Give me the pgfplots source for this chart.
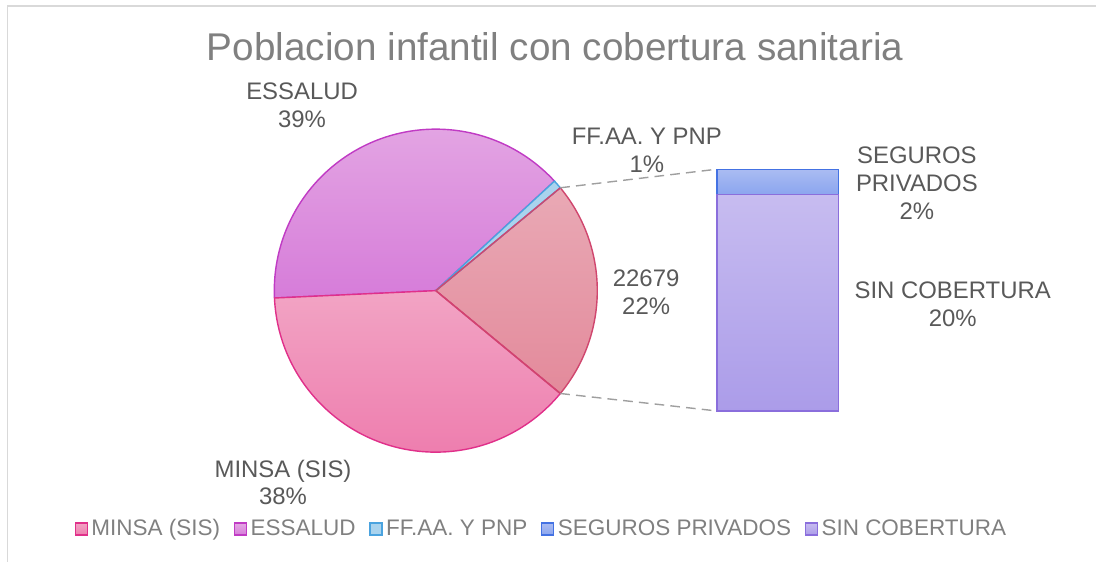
\documentclass[border=0pt]{standalone}
\usepackage{pgfplots}
\usepackage{pgfplotstable}
\usepackage{fontspec}
\setmainfont{Liberation Sans}
\usetikzlibrary{calc}
\pgfplotsset{compat=1.18}

\definecolor{titlegray}{HTML}{808080}
\definecolor{labgray}{HTML}{595959}
\definecolor{framegray}{HTML}{D9D9D9}
\definecolor{minsaT}{HTML}{F2A4C4}\definecolor{minsaB}{HTML}{EE7DAE}\definecolor{minsaE}{HTML}{E0308A}
\definecolor{essT}{HTML}{E4A8E4}\definecolor{essB}{HTML}{D67CD9}\definecolor{essE}{HTML}{C03BC4}
\definecolor{ffaaF}{HTML}{A9D3EE}\definecolor{ffaaE}{HTML}{4AA3DF}
\definecolor{othT}{HTML}{E9A9B5}\definecolor{othB}{HTML}{E38A9B}\definecolor{othE}{HTML}{D0466E}
\definecolor{segT}{HTML}{AABCF2}\definecolor{segB}{HTML}{8BA5EF}\definecolor{segE}{HTML}{4472E3}
\definecolor{sinT}{HTML}{C7BCF0}\definecolor{sinB}{HTML}{AB9CE9}\definecolor{sinE}{HTML}{8A6EDC}

% cobertura sanitaria (poblacion infantil)
\pgfplotstableread{
name value
MINSA 39500
ESSALUD 40100
FFAA 900
SEGUROS 2345
SINCOB 20334
}\datatable

\pgfplotstablegetelem{0}{value}\of\datatable \let\vMinsa\pgfplotsretval
\pgfplotstablegetelem{1}{value}\of\datatable \let\vEss\pgfplotsretval
\pgfplotstablegetelem{2}{value}\of\datatable \let\vFfaa\pgfplotsretval
\pgfplotstablegetelem{3}{value}\of\datatable \let\vSeg\pgfplotsretval
\pgfplotstablegetelem{4}{value}\of\datatable \let\vSin\pgfplotsretval

\edef\vTotal{\fpeval{\vMinsa+\vEss+\vFfaa+\vSeg+\vSin}}
\edef\vOther{\fpeval{\vSeg+\vSin}}
% angles of the pie, "otros" wedge centred on the right
\edef\aA{\fpeval{-180*\vOther/\vTotal}}
\edef\aB{\fpeval{180*\vOther/\vTotal}}
\edef\aC{\fpeval{\aB+360*\vFfaa/\vTotal}}
\edef\aD{\fpeval{\aC+360*\vEss/\vTotal}}
\edef\aE{\fpeval{\aD+360*\vMinsa/\vTotal}}

\def\R{3.23cm}
\newcommand{\lab}{\fontsize{13.6}{15.9}\selectfont}

\begin{document}
\begin{tikzpicture}
\begin{axis}[
    name=pie,
    at={(0,0)}, anchor=south west,
    x=0.02cm, y=0.02cm,
    xmin=0, xmax=1096, ymin=0, ymax=562,
    hide axis, clip=false,
    legend columns=5,
    legend style={
        at={(0.4945,0.0587)}, anchor=center, draw=none, fill=none,
        font=\fontsize{12.8}{15}\selectfont, text=titlegray,
        nodes={inner xsep=2pt},
        /tikz/every even column/.append style={column sep=0.2cm},
    },
]
% frame
\draw[framegray, line width=1.1pt] (axis cs:7.5,-10) -- (axis cs:7.5,556) -- (axis cs:1110,556);

% legend
\addlegendimage{legend image code/.code={\draw[minsaE, line width=0.8pt, top color=minsaT, bottom color=minsaB] (0cm,-0.12cm) rectangle (0.24cm,0.12cm);}}
\addlegendentry{MINSA (SIS)}
\addlegendimage{legend image code/.code={\draw[essE, line width=0.8pt, top color=essT, bottom color=essB] (0cm,-0.12cm) rectangle (0.24cm,0.12cm);}}
\addlegendentry{ESSALUD}
\addlegendimage{legend image code/.code={\draw[ffaaE, line width=0.8pt, fill=ffaaF] (0cm,-0.12cm) rectangle (0.24cm,0.12cm);}}
\addlegendentry{FF.AA. Y PNP}
\addlegendimage{legend image code/.code={\draw[segE, line width=0.8pt, top color=segT, bottom color=segB] (0cm,-0.12cm) rectangle (0.24cm,0.12cm);}}
\addlegendentry{SEGUROS PRIVADOS}
\addlegendimage{legend image code/.code={\draw[sinE, line width=0.8pt, top color=sinT, bottom color=sinB] (0cm,-0.12cm) rectangle (0.24cm,0.12cm);}}
\addlegendentry{SIN COBERTURA}

% pie wedges
\path[draw=othE, line width=0.8pt, top color=othT, bottom color=othB]
    (axis cs:435.7,271.3) -- ++(\aA:\R) arc[start angle=\aA, end angle=\aB, radius=\R] -- cycle;
\path[draw=essE, line width=0.8pt, top color=essT, bottom color=essB]
    (axis cs:435.7,271.3) -- ++(\aC:\R) arc[start angle=\aC, end angle=\aD, radius=\R] -- cycle;
\path[draw=minsaE, line width=0.8pt, top color=minsaT, bottom color=minsaB]
    (axis cs:435.7,271.3) -- ++(\aD:\R) arc[start angle=\aD, end angle=\aE, radius=\R] -- cycle;
\path[draw=ffaaE, line width=0.8pt, fill=ffaaF]
    (axis cs:435.7,271.3) -- ++(\aB:\R) arc[start angle=\aB, end angle=\aC, radius=\R] -- cycle;
\draw[othE, line width=0.8pt] (axis cs:435.7,271.3) -- ++(\aA:\R);
\draw[othE, line width=0.8pt] (axis cs:435.7,271.3) -- ++(\aB:\R);

% connectors
\draw[gray!75, line width=0.8pt, dash pattern=on 5.5pt off 3.5pt]
    ($(axis cs:435.7,271.3)+(\aB:\R)$) -- (axis cs:716.7,392.7);
\draw[gray!75, line width=0.8pt, dash pattern=on 5.5pt off 3.5pt]
    ($(axis cs:435.7,271.3)+(\aA:\R)$) -- (axis cs:716.7,151);
\coordinate (barSW) at (axis cs:716.7,151);

% text
\node[titlegray, font=\fontsize{22}{25}\selectfont] at (axis cs:555,515) {Poblacion infantil con cobertura sanitaria};
\node[labgray, align=center, font=\lab] at (axis cs:302,457) {ESSALUD\\39\%};
\node[labgray, align=center, font=\lab] at (axis cs:646.7,411.2) {FF.AA. Y PNP\\1\%};
\node[labgray, align=center, font=\lab] at (axis cs:646,270) {22679\\22\%};
\node[labgray, align=center, font=\lab] at (axis cs:283,79.5) {MINSA (SIS)\\38\%};
\node[labgray, align=center, font=\lab] at (axis cs:916.7,378.7) {SEGUROS\\PRIVADOS\\2\%};
\node[labgray, align=center, font=\lab] at (axis cs:952.5,258) {SIN COBERTURA\\20\%};
\end{axis}

\begin{axis}[
    at={(barSW)}, anchor=south west,
    scale only axis, width=2.432cm, height=4.834cm,
    xmin=-0.5, xmax=0.5, ymin=0, ymax=\vOther,
    hide axis, clip=false,
    ybar stacked, bar width=2.432cm,
]
\addplot[draw=sinE, line width=0.8pt, top color=sinT, bottom color=sinB] coordinates {(0,20334)};
\addplot[draw=segE, line width=0.8pt, top color=segT, bottom color=segB] coordinates {(0,2345)};
\end{axis}

\pgfresetboundingbox
\useasboundingbox (0,0) rectangle (21.92cm,11.24cm);
\end{tikzpicture}
\end{document}
